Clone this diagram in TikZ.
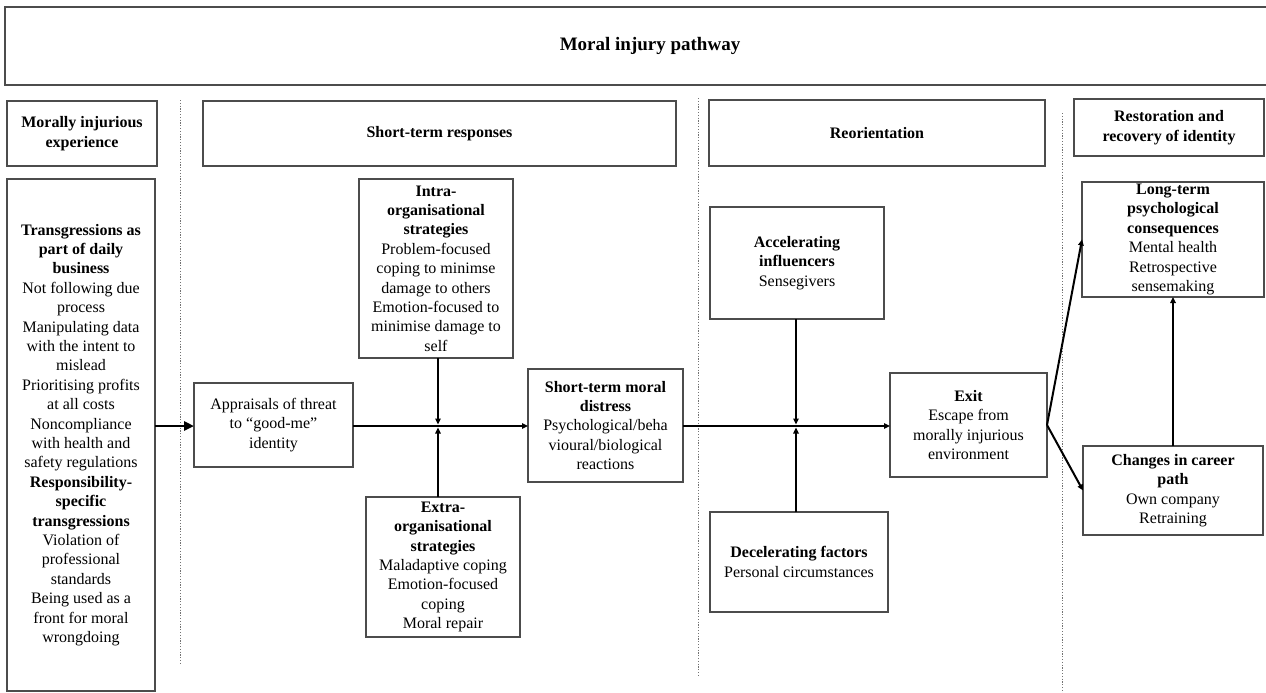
\documentclass[tikz,border=0pt]{standalone}
\usepackage{fontspec}
\setmainfont{Liberation Serif}
\usetikzlibrary{arrows.meta}
\newcommand\bodyfs{\fontsize{16}{19.4}\selectfont}
\tikzset{
  box/.style={draw=black!70, line width=1.1pt, inner sep=0pt, outer sep=0pt, align=center, font=\bodyfs, rectangle},
  sep/.style={draw=black!55, line width=0.9pt, dash pattern=on 1.2pt off 1.6pt},
  conn/.style={line width=2pt, -{Triangle[length=6pt,width=5.5pt]}},
  bigconn/.style={line width=2.6pt, -{Triangle[length=10pt,width=9pt]}},
  plain/.style={line width=2pt}
}
\begin{document}
\begin{tikzpicture}[x=1pt,y=-1pt]
\useasboundingbox (0,0) rectangle (1266,693);
% separators
\draw[sep] (180,100) -- (180,663);
\draw[sep] (698,98) -- (698,675);
\draw[sep] (1062,113) -- (1062,693);
% title and headers
\node[box, minimum width=1290, minimum height=78, font=\fontsize{19}{22}\selectfont\bfseries] (title) at (650,46) {Moral injury pathway};
\node[box, minimum width=150, minimum height=65, font=\bodyfs\bfseries] (h1) at (82,133.5) {Morally injurious\\experience};
\node[box, minimum width=473, minimum height=65, font=\bodyfs\bfseries] (h2) at (439.5,133.5) {Short-term responses};
\node[box, minimum width=336, minimum height=66, font=\bodyfs\bfseries] (h3) at (877,133) {Reorientation};
\node[box, minimum width=190, minimum height=57, font=\bodyfs\bfseries] (h4) at (1169,127.5) {Restoration and\\recovery of identity};
% content boxes
\node[box, minimum width=148, minimum height=512] (left) at (81,435) {\textbf{Transgressions as}\\\textbf{part of daily}\\\textbf{business}\\Not following due\\process\\Manipulating data\\with the intent to\\mislead\\Prioritising profits\\at all costs\\Noncompliance\\with health and\\safety regulations\\\textbf{Responsibility-}\\\textbf{specific}\\\textbf{transgressions}\\Violation of\\professional\\standards\\Being used as a\\front for moral\\wrongdoing};
\node[box, minimum width=159, minimum height=84] (appr) at (273.5,425) {Appraisals of threat\\to “good-me”\\identity};
\node[box, minimum width=154, minimum height=179] (intra) at (436,268.5) {\textbf{Intra-}\\\textbf{organisational}\\\textbf{strategies}\\Problem-focused\\coping to minimse\\damage to others\\Emotion-focused to\\minimise damage to\\self};
\node[box, minimum width=155, minimum height=113] (short) at (605.5,425.5) {\textbf{Short-term moral}\\\textbf{distress}\\Psychological/beha\\vioural/biological\\reactions};
\node[box, minimum width=154, minimum height=140] (extra) at (443,567) {\textbf{Extra-}\\\textbf{organisational}\\\textbf{strategies}\\Maladaptive coping\\Emotion-focused\\coping\\Moral repair};
\node[box, minimum width=174, minimum height=112] (accel) at (797,263) {\textbf{Accelerating}\\\textbf{influencers}\\Sensegivers};
\node[box, minimum width=178, minimum height=100] (decel) at (799,562) {\textbf{Decelerating factors}\\Personal circumstances};
\node[box, minimum width=157, minimum height=104] (exit) at (968.5,425) {\textbf{Exit}\\Escape from\\morally injurious\\environment};
\node[box, minimum width=182, minimum height=115] (long) at (1173,239.5) {\textbf{Long-term}\\\textbf{psychological}\\\textbf{consequences}\\Mental health\\Retrospective\\sensemaking};
\node[box, minimum width=180, minimum height=89] (chg) at (1173,490.5) {\textbf{Changes in career}\\\textbf{path}\\Own company\\Retraining};
% junctions
\coordinate (j1) at (438,426);
\coordinate (j2) at (796,426);
% connectors
\draw[bigconn] (left.east |- j1) -- (appr.west |- j1);
\draw[conn] (appr.east |- j1) -- (short.west |- j1);
\draw[conn, shorten >=1.5pt] (j1 |- intra.south) -- (j1);
\draw[conn, shorten >=1.5pt] (j1 |- extra.north) -- (j1);
\draw[conn] (short.east |- j2) -- (exit.west |- j2);
\draw[conn, shorten >=1.5pt] (j2 |- accel.south) -- (j2);
\draw[conn, shorten >=1.5pt] (j2 |- decel.north) -- (j2);
\draw[conn] (exit.east) -- (long.west);
\draw[conn] (exit.east) -- (chg.west);
\draw[conn] (chg.north) -- (long.south);
\end{tikzpicture}
\end{document}
